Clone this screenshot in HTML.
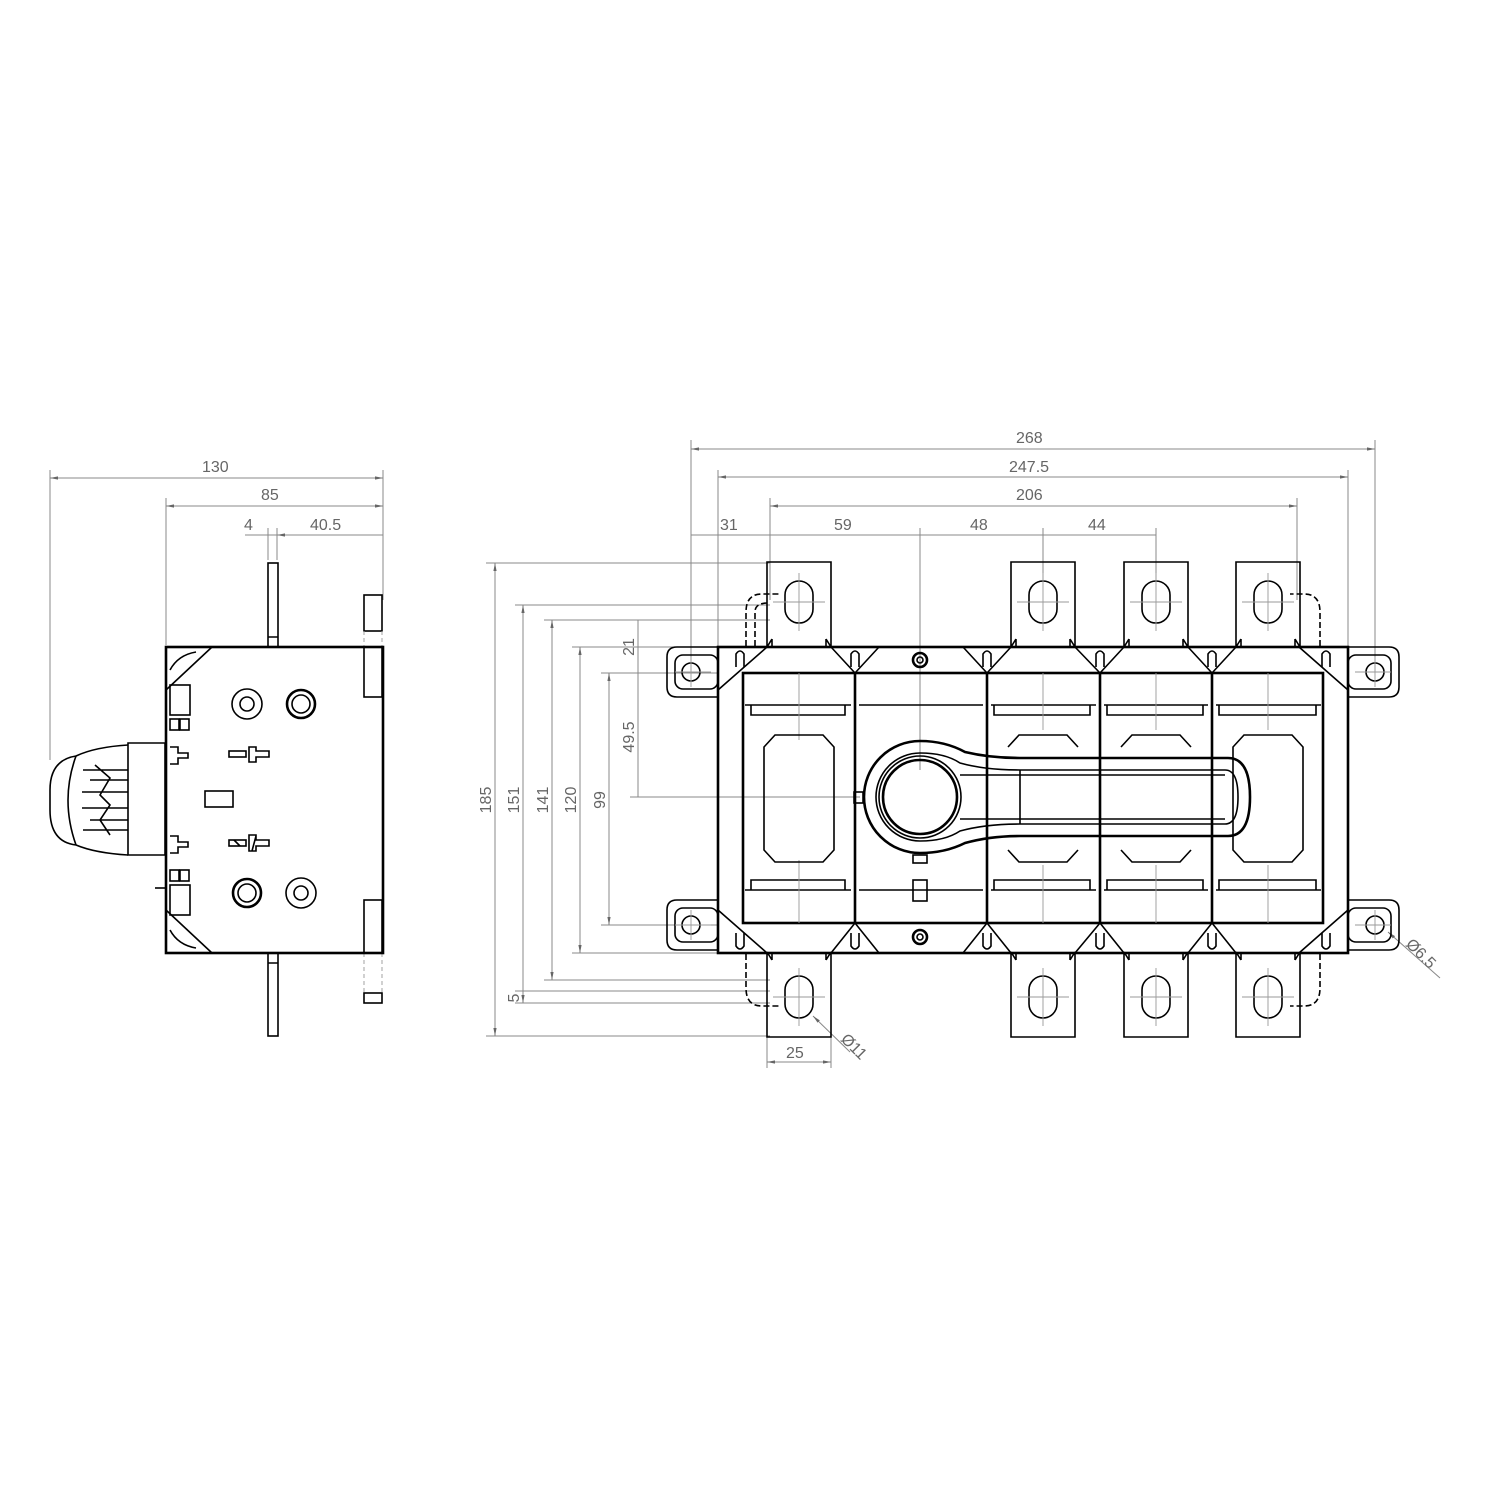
<!DOCTYPE html>
<html><head><meta charset="utf-8"><style>
html,body{margin:0;padding:0;background:#fff}
svg{display:block}
text{font-family:"Liberation Sans",sans-serif;font-size:16px;fill:#666}
.t{stroke:#000;stroke-width:2.6;fill:none}
.m{stroke:#000;stroke-width:1.6;fill:none}
.d{stroke:#888;stroke-width:1;fill:none}
.c{stroke:#999;stroke-width:0.9;fill:none}
</style></head><body>
<svg width="1500" height="1500" viewBox="0 0 1500 1500" xmlns="http://www.w3.org/2000/svg">
<defs>
<marker id="a" viewBox="0 0 10 10" refX="10" refY="5" markerWidth="8" markerHeight="8" orient="auto-start-reverse"><path d="M0,3 L10,5 L0,7z" fill="#666"/></marker>
<g id="termT">
 <path class="m" d="M-32,84 L-32,-1 L32,-1 L32,84 M-32,84 L-27,76 M32,84 L27,76 M-27,76 L-27,84 M27,76 L27,84"/>
 <rect class="m" x="-14" y="18" width="28" height="42" rx="14"/>
 <path class="c" d="M-26,39 H26 M0,10 V68"/>
</g>
<g id="ear">
 <path class="m" d="M51,0 H10 Q0,0 0,10 V40 Q0,50 10,50 H51"/>
 <rect class="m" x="8" y="8" width="43" height="34" rx="8"/>
 <circle class="m" cx="24" cy="25" r="9"/>
 <path class="c" d="M8,25 H44 M24,10 V40"/>
</g>
</defs>

<!-- ===== LEFT VIEW ===== -->
<g>
 <!-- dims -->
 <path class="d" d="M50,478 H383 M166,506 H383 M245,535 H383 M50,470 V760 M166,498 V645 M383,470 V600 M268,528 V560 M277,528 V560" marker-start="" />
 <line class="d" x1="50" y1="478" x2="383" y2="478" marker-start="url(#a)" marker-end="url(#a)"/>
 <line class="d" x1="166" y1="506" x2="383" y2="506" marker-start="url(#a)" marker-end="url(#a)"/>
 <line class="d" x1="277" y1="535" x2="383" y2="535" marker-start="url(#a)"/>
 <text x="202" y="472">130</text>
 <text x="261" y="500">85</text>
 <text x="244" y="530">4</text>
 <text x="310" y="530">40.5</text>
 <!-- pins -->
 <rect class="m" x="268" y="563" width="10" height="84"/>
 <rect class="m" x="268" y="953" width="10" height="83"/>
 <path class="m" d="M268,637 H278 M268,963 H278"/>
 <!-- right side clips -->
 <rect class="m" x="364" y="595" width="18" height="36"/>
 <rect class="m" x="364" y="647" width="18" height="50"/>
 <rect class="m" x="364" y="900" width="18" height="53"/>
 <rect class="m" x="364" y="993" width="18" height="10"/>
 <path class="c" stroke-dasharray="4 3" d="M364,631 V647 M382,631 V647 M364,953 V993 M382,953 V993"/>
 <!-- body -->
 <rect class="t" x="166" y="647" width="217" height="306"/>
 <path class="m" d="M166,690 L212,647 M166,910 L212,953 M170,670 Q178,655 196,652 M170,930 Q178,945 196,948"/>
 <rect class="m" x="170" y="685" width="20" height="30"/>
 <rect class="m" x="170" y="885" width="20" height="30"/>
 <rect class="m" x="170" y="719" width="9" height="11"/><rect class="m" x="180" y="719" width="9" height="11"/>
 <rect class="m" x="170" y="870" width="9" height="11"/><rect class="m" x="180" y="870" width="9" height="11"/>
 <path class="m" d="M170,747 H178 V753 H188 V758 H178 V764 H170 M170,836 H178 V842 H188 V847 H178 V853 H170"/>
 <circle class="m" cx="247" cy="704" r="15"/><circle class="m" cx="247" cy="704" r="7"/>
 <circle class="t" cx="301" cy="704" r="14"/><circle class="m" cx="301" cy="704" r="9"/>
 <circle class="t" cx="247" cy="893" r="14"/><circle class="m" cx="247" cy="893" r="9"/>
 <circle class="m" cx="301" cy="893" r="15"/><circle class="m" cx="301" cy="893" r="7"/>
 <rect class="m" x="229" y="751" width="17" height="6"/><path class="m" d="M249,747 H256 V751 H269 V757 H256 V762 H249 Z"/>
 <rect class="m" x="229" y="840" width="17" height="6"/><path class="m" d="M249,835 H256 V840 H269 V846 H256 V851 H249 Z M234,840 L240,846 M252,851 L256,836"/>
 <rect class="m" x="205" y="791" width="28" height="16"/>
 <path class="m" d="M155,888 H166"/>
 <!-- knob -->
 <path class="m" d="M165,743 H128 V855 H165 Z"/>
 <path class="m" d="M128,745 Q95,747 76,756 Q50,760 50,790 V810 Q50,842 76,845 Q95,853 128,855"/>
 <path class="m" d="M76,756 Q60,800 76,845 M83,770 H128 M83,830 H128 M90,780 L128,780 M90,820 L128,820 M82,792 H128 M82,808 H128 M95,765 L110,778 L100,795 L110,805 L100,820 L110,835"/>
</g>

<!-- ===== FRONT VIEW DIMS ===== -->
<g>
 <path class="d" d="M691,440 V672 M718,470 V647 M1375,440 V672 M1348,470 V647 M770,498 V600 M1297,498 V600 M920,528 V770 M1043,528 V580 M1156,528 V580"/>
 <line class="d" x1="691" y1="449" x2="1375" y2="449" marker-start="url(#a)" marker-end="url(#a)"/>
 <line class="d" x1="718" y1="477" x2="1348" y2="477" marker-start="url(#a)" marker-end="url(#a)"/>
 <line class="d" x1="770" y1="506" x2="1297" y2="506" marker-start="url(#a)" marker-end="url(#a)"/>
 <line class="d" x1="691" y1="535" x2="1156" y2="535"/>
 <text x="1016" y="443">268</text><text x="1009" y="472">247.5</text><text x="1016" y="500">206</text>
 <text x="720" y="530">31</text><text x="834" y="530">59</text><text x="970" y="530">48</text><text x="1088" y="530">44</text>
 <!-- vertical -->
 <path class="d" d="M486,563 H770 M486,1036 H770 M515,605 H770 M515,1003 H770 M544,620 H770 M544,980 H770 M572,647 H718 M572,953 H718 M601,673 H718 M601,925 H718 M630,620 H660 M630,673 H660 M630,797 H860 M515,991 H770"/>
 <line class="d" x1="495" y1="563" x2="495" y2="1036" marker-start="url(#a)" marker-end="url(#a)"/>
 <line class="d" x1="523" y1="605" x2="523" y2="1003" marker-start="url(#a)" marker-end="url(#a)"/>
 <line class="d" x1="552" y1="620" x2="552" y2="980" marker-start="url(#a)" marker-end="url(#a)"/>
 <line class="d" x1="580" y1="647" x2="580" y2="953" marker-start="url(#a)" marker-end="url(#a)"/>
 <line class="d" x1="609" y1="673" x2="609" y2="925" marker-start="url(#a)" marker-end="url(#a)"/>
 <line class="d" x1="638" y1="620" x2="638" y2="797"/>
 <text transform="translate(491,800) rotate(-90)" text-anchor="middle">185</text>
 <text transform="translate(519,800) rotate(-90)" text-anchor="middle">151</text>
 <text transform="translate(548,800) rotate(-90)" text-anchor="middle">141</text>
 <text transform="translate(576,800) rotate(-90)" text-anchor="middle">120</text>
 <text transform="translate(605,800) rotate(-90)" text-anchor="middle">99</text>
 <text transform="translate(634,737) rotate(-90)" text-anchor="middle">49.5</text>
 <text transform="translate(634,647) rotate(-90)" text-anchor="middle">21</text>
 <text transform="translate(519,998) rotate(-90)" text-anchor="middle">5</text>
 <path class="d" d="M767,1036 V1068 M831,1036 V1068"/>
 <line class="d" x1="767" y1="1062" x2="831" y2="1062" marker-start="url(#a)" marker-end="url(#a)"/>
 <text x="786" y="1058">25</text>
 <line class="d" x1="813" y1="1016" x2="850" y2="1052" marker-start="url(#a)"/>
 <text transform="translate(840,1040) rotate(45)">Ø11</text>
 <line class="d" x1="1388" y1="932" x2="1440" y2="978" marker-start="url(#a)"/>
 <text transform="translate(1405,945) rotate(45)">Ø6.5</text>
</g>

<!-- ===== FRONT VIEW BODY ===== -->
<g>
 <use href="#termT" x="799" y="563"/>
 <use href="#termT" x="1043" y="563"/>
 <use href="#termT" x="1156" y="563"/>
 <use href="#termT" x="1268" y="563"/>
 <use href="#termT" transform="translate(799,1036) scale(1,-1)"/>
 <use href="#termT" transform="translate(1043,1036) scale(1,-1)"/>
 <use href="#termT" transform="translate(1156,1036) scale(1,-1)"/>
 <use href="#termT" transform="translate(1268,1036) scale(1,-1)"/>
 <use href="#ear" x="667" y="647"/>
 <use href="#ear" x="667" y="900"/>
 <use href="#ear" transform="translate(1399,647) scale(-1,1)"/>
 <use href="#ear" transform="translate(1399,900) scale(-1,1)"/>
 <!-- dashed hidden -->
 <path class="m" stroke-dasharray="6 3" d="M746,646 V612 Q746,594 762,594 H780 M755,646 V612 Q755,603 768,603 M1320,646 V612 Q1320,594 1304,594 H1290 M746,954 V988 Q746,1006 762,1006 H780 M1320,954 V988 Q1320,1006 1304,1006 H1290"/>
 <!-- frame -->
 <rect class="t" x="718" y="647" width="630" height="306"/>
 <rect class="t" x="743" y="673" width="580" height="250"/>
 <path class="t" d="M855,673 V923 M987,673 V923 M1100,673 V923 M1212,673 V923"/>
 <path class="m" d="M718,690 L767,647 M718,910 L767,953 M1348,690 L1299,647 M1348,910 L1299,953"/>
 <path class="m" d="M831,647 L855,673 L879,647 M963,647 L987,673 L1011,647 M1075,647 L1100,673 L1124,647 M1188,647 L1212,673 L1236,647 M831,953 L855,923 L879,953 M963,953 L987,923 L1011,953 M1075,953 L1100,923 L1124,953 M1188,953 L1212,923 L1236,953"/>
 <g class="m">
  <path d="M736,667 V654 Q740,648 744,654 V667 M851,667 V654 Q855,648 859,654 V667 M983,667 V654 Q987,648 991,654 V667 M1096,667 V654 Q1100,648 1104,654 V667 M1208,667 V654 Q1212,648 1216,654 V667 M1322,667 V654 Q1326,648 1330,654 V667"/>
  <path d="M736,933 V946 Q740,952 744,946 V933 M851,933 V946 Q855,952 859,946 V933 M983,933 V946 Q987,952 991,946 V933 M1096,933 V946 Q1100,952 1104,946 V933 M1208,933 V946 Q1212,952 1216,946 V933 M1322,933 V946 Q1326,952 1330,946 V933"/>
 </g>
 <path class="m" d="M745,705 H851 M859,705 H983 M991,705 H1096 M1104,705 H1208 M1216,705 H1321 M745,890 H851 M859,890 H983 M991,890 H1096 M1104,890 H1208 M1216,890 H1321"/>
 <path class="m" d="M751,705 V715 H845 V705 M994,705 V715 H1090 V705 M1107,705 V715 H1203 V705 M1219,705 V715 H1316 V705 M751,890 V880 H845 V890 M994,890 V880 H1090 V890 M1107,890 V880 H1203 V890 M1219,890 V880 H1316 V890"/>
 <path class="c" d="M799,673 V740 M799,860 V923 M1043,673 V730 M1043,865 V923 M1156,673 V730 M1156,865 V923 M1268,673 V730 M1268,865 V923"/>
 <!-- pole windows -->
 <path class="m" d="M775,735 H823 L834,747 V850 L823,862 H775 L764,850 V747 Z"/>
 <path class="m" d="M1244,735 H1292 L1303,747 V850 L1292,862 H1244 L1233,850 V747 Z"/>
 <path class="m" d="M1008,747 L1019,735 H1067 L1078,747 M1008,850 L1019,862 H1067 L1078,850"/>
 <path class="m" d="M1121,747 L1132,735 H1180 L1191,747 M1121,850 L1132,862 H1180 L1191,850"/>
 <!-- screws -->
 <circle class="t" cx="920" cy="660" r="7"/><circle class="m" cx="920" cy="660" r="3"/>
 <circle class="t" cx="920" cy="937" r="7"/><circle class="m" cx="920" cy="937" r="3"/>
 <rect class="m" x="913" y="880" width="14" height="21"/>
 <rect class="m" x="913" y="855" width="14" height="8"/>
 <rect class="m" x="854" y="792" width="9" height="11"/>
 <!-- handle -->
 <path fill="#fff" class="t" d="M920,741 Q945,741 965,752 Q990,758 1020,758 H1228 Q1250,758 1250,797 Q1250,836 1228,836 H1020 Q990,836 965,843 Q945,853 920,853 A56,56 0 0 1 920,741 Z"/>
 <path class="m" d="M920,753 Q945,753 960,763 Q985,770 1020,770 H1225 Q1238,770 1238,797 Q1238,824 1225,824 H1020 Q985,824 960,831 Q945,841 920,841 A44,44 0 0 1 920,753 Z"/>
 <path class="m" d="M960,775 H1225 M960,819 H1225 M1020,770 V824"/>
 <circle class="t" cx="920" cy="797" r="37"/>
 <circle class="m" cx="920" cy="797" r="41"/>
</g>
</svg>
</body></html>
